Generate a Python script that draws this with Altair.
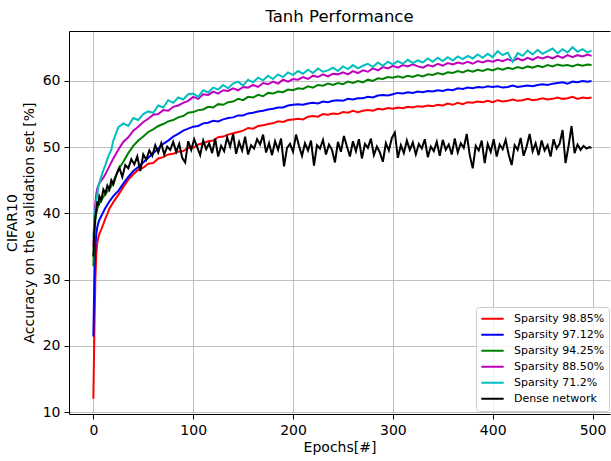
import altair as alt
import pandas as pd

# ---------------- data ----------------
EPOCHS_EARLY = [0, 1, 2, 3, 4, 5, 6, 8, 10, 12, 14, 16, 18, 20]
EPOCHS_SMOOTH = EPOCHS_EARLY + list(range(25, 500, 5)) + [499]
EPOCHS_DENSE = EPOCHS_EARLY + list(range(23, 500, 3)) + [499]

SERIES = ["Sparsity 98.85%", "Sparsity 97.12%", "Sparsity 94.25%",
          "Sparsity 88.50%", "Sparsity 71.2%", "Dense network"]
COLORS = ["#ff0000", "#0000ff", "#008000", "#bf00bf", "#00bfbf", "#000000"]

RED = [12.0, 22.0, 30.0, 34.0, 35.6, 36.4, 36.9, 37.6, 38.4, 39.2, 39.9, 40.7, 41.2, 41.7,
       42.8, 44.0, 45.1, 45.9, 46.6, 46.9, 47.5, 47.6, 48.3, 48.5,
       48.9, 49.0, 49.3, 49.4, 49.9, 49.9, 50.4, 50.6, 50.9, 51.0,
       51.5, 51.6, 51.9, 52.1, 52.3, 52.5, 52.9, 52.8, 53.2, 53.3,
       53.5, 53.6, 53.9, 53.8, 54.1, 54.2, 54.3, 54.2, 54.6, 54.7,
       54.6, 55.0, 54.9, 55.1, 55.0, 55.3, 55.2, 55.5, 55.3, 55.5,
       55.6, 55.5, 55.8, 55.7, 55.9, 55.8, 56.0, 55.9, 56.1, 56.0,
       56.2, 56.1, 56.3, 56.2, 56.4, 56.3, 56.6, 56.4, 56.7, 56.5,
       56.8, 56.7, 56.9, 56.8, 57.0, 56.8, 57.1, 56.9, 57.0, 57.2,
       57.0, 57.1, 57.3, 57.1, 57.2, 57.4, 57.2, 57.3, 57.5, 57.3,
       57.4, 57.6, 57.3, 57.5, 57.4,
       57.5]

BLUE = [21.4, 30.0, 35.0, 37.0, 38.0, 38.6, 39.0, 39.6, 40.2, 40.8, 41.3, 41.8, 42.2, 42.6,
        43.4, 44.5, 45.5, 46.4, 47.0, 47.7, 48.4, 49.1, 49.8, 50.5,
        51.0, 51.6, 52.0, 52.5, 52.8, 53.1, 53.2, 53.6, 53.7, 54.0,
        53.9, 54.2, 54.4, 54.5, 54.8, 54.8, 55.1, 55.2, 55.4, 55.5,
        55.7, 55.8, 56.0, 56.0, 56.3, 56.4, 56.5, 56.4, 56.6, 56.7,
        56.6, 56.9, 56.8, 57.0, 57.1, 57.0, 57.3, 57.2, 57.4, 57.4,
        57.6, 57.5, 57.8, 57.9, 57.8, 58.0, 58.2, 58.1, 58.3, 58.2,
        58.4, 58.3, 58.5, 58.4, 58.6, 58.5, 58.7, 58.6, 58.9, 58.8,
        59.0, 58.9, 59.1, 59.0, 59.2, 59.1, 59.2, 59.0, 59.1, 59.3,
        59.1, 59.2, 59.3, 59.2, 59.4, 59.5, 59.4, 59.6, 59.7, 59.8,
        59.6, 59.9, 59.8, 60.0, 59.9,
        60.0]

GREEN = [32.0, 37.0, 39.0, 40.0, 40.8, 41.2, 41.5, 42.0, 42.5, 42.9, 43.3, 43.7, 44.1, 44.8,
         46.6, 47.8, 49.1, 50.2, 51.0, 51.6, 52.3, 52.7, 53.2, 53.5,
         53.9, 54.1, 54.5, 54.7, 55.2, 55.3, 55.6, 55.7, 56.1, 56.0,
         56.5, 56.4, 56.8, 56.9, 57.3, 57.1, 57.6, 57.5, 57.9, 57.7,
         58.2, 58.1, 58.4, 58.3, 58.7, 58.6, 58.9, 58.8, 59.2, 59.0,
         59.4, 59.3, 59.6, 59.4, 59.7, 59.5, 59.9, 59.7, 60.0, 59.8,
         60.2, 60.0, 60.4, 60.3, 60.6, 60.5, 60.7, 60.5, 60.8, 60.6,
         60.9, 60.7, 61.0, 60.9, 61.2, 61.0, 61.3, 61.2, 61.5, 61.3,
         61.6, 61.4, 61.7, 61.5, 61.8, 61.6, 61.9, 61.7, 62.0, 61.8,
         62.1, 61.9, 62.2, 62.0, 62.3, 62.1, 62.4, 62.2, 62.5, 62.3,
         62.4, 62.2, 62.5, 62.3, 62.5,
         62.4]

MAGENTA = [35.0, 39.0, 41.5, 43.0, 43.8, 44.2, 44.6, 45.0, 45.4, 45.9, 46.5, 47.1, 47.7, 48.3,
           49.6, 50.8, 51.5, 52.5, 53.1, 53.8, 54.3, 54.9, 55.0, 55.6,
           55.5, 56.1, 56.3, 56.7, 57.0, 57.6, 57.3, 58.0, 57.9, 58.4,
           58.1, 58.6, 58.5, 58.9, 58.6, 59.1, 59.0, 59.4, 59.1, 59.7,
           59.5, 59.9, 59.6, 60.2, 59.9, 60.3, 60.2, 60.6, 60.3, 60.8,
           60.6, 61.0, 60.7, 61.1, 61.0, 61.3, 61.0, 61.5, 61.2, 61.6,
           61.4, 61.9, 61.6, 62.1, 61.9, 62.3, 62.0, 62.4, 62.2, 62.5,
           62.2, 62.0, 62.4, 62.2, 62.6, 62.3, 62.7, 62.5, 62.8, 62.6,
           62.9, 62.6, 63.0, 62.8, 63.1, 62.9, 63.2, 63.0, 63.3, 63.0,
           63.4, 63.1, 63.5, 63.2, 63.6, 63.4, 63.7, 63.4, 63.8, 63.5,
           63.9, 63.6, 63.9, 63.7, 64.0,
           63.8]

CYAN = [36.5, 38.5, 40.5, 42.0, 43.0, 44.0, 44.6, 45.6, 46.5, 47.3, 48.2, 49.0, 49.6, 51.0,
        53.0, 53.6, 53.2, 54.4, 54.1, 55.0, 55.4, 55.2, 56.3, 56.0,
        57.1, 56.7, 57.5, 57.2, 58.0, 58.1, 57.6, 58.6, 58.3, 59.0,
        58.7, 59.4, 58.9, 59.6, 59.9, 59.3, 60.2, 59.8, 60.5, 60.1,
        60.8, 60.3, 61.0, 60.6, 61.3, 60.9, 61.5, 61.1, 61.7, 61.2,
        61.9, 61.4, 61.6, 62.0, 61.5, 62.2, 61.8, 62.4, 61.9, 62.3,
        62.6, 62.1, 62.8, 62.3, 62.9, 62.5, 63.0, 62.6, 63.2, 62.7,
        63.1, 62.8, 63.4, 62.9, 63.5, 63.0, 63.6, 63.1, 63.7, 63.3,
        63.8, 63.4, 64.0, 63.5, 64.1, 63.6, 64.5, 63.9, 64.3, 62.9,
        64.2, 63.8, 64.6, 64.0, 64.7, 64.1, 64.5, 64.9, 64.2, 64.8,
        64.3, 65.1, 64.4, 64.8, 64.3,
        64.6]

BLACK = [33.5, 37.5, 39.5, 40.5, 41.8, 41.2, 42.6, 42.0, 43.6, 43.0, 44.2, 43.6, 45.0, 44.4,
         45.8, 46.9, 45.5, 47.3, 46.8, 48.2, 47.4, 48.6, 46.4, 48.9,
         48.1, 49.5, 48.7, 50.3, 49.2, 50.6, 48.9, 50.1, 49.6, 50.8,
         49.3, 50.5, 48.4, 47.7, 50.9, 49.6, 51.2, 50.0, 48.8, 51.0,
         49.7, 50.6, 49.1, 51.3, 48.6, 50.2, 49.4, 51.5, 50.1, 52.0,
         49.0, 50.8, 49.5, 51.6, 48.9, 50.3, 49.8, 51.2, 50.4, 51.9,
         49.2, 50.6, 48.8, 50.9, 49.6, 51.3, 47.1, 49.9, 50.5, 49.3,
         51.9, 50.2, 48.7, 50.6, 49.5, 51.0, 47.2, 50.3, 49.8, 51.1,
         48.9, 50.4, 49.6, 47.7, 50.8, 49.3, 51.7, 50.1, 48.6, 50.9,
         49.4, 51.2, 48.3, 50.5, 49.9, 51.3, 48.8, 50.1, 49.2, 47.8,
         50.6, 49.5, 51.4, 52.2, 48.4, 50.3, 49.1, 51.0, 49.6, 50.7,
         48.9, 50.5, 49.8, 51.2, 48.5, 50.1, 49.4, 50.8, 48.7, 51.1,
         49.6, 50.4, 48.9, 51.3, 49.2, 50.6, 49.9, 52.0, 48.8, 46.8,
         50.2, 49.5, 51.0, 47.6, 50.5, 49.3, 51.2, 48.6, 50.4, 49.7,
         51.1, 48.9, 47.3, 50.3, 49.6, 51.4, 48.7, 50.1, 52.0, 49.4,
         50.6, 48.8, 51.0, 49.5, 50.3, 48.6, 51.2, 49.8, 50.5, 52.6,
         47.6, 50.2, 53.2, 49.1, 50.4, 49.6, 50.2, 49.8, 50.0,
         49.9]

X_TICKS = [0, 100, 200, 300, 400, 500]
Y_TICKS = [10, 20, 30, 40, 50, 60]

# ---------------- table ----------------
rows = []
for idx, (name, epochs, vals) in enumerate(zip(
        SERIES, [EPOCHS_SMOOTH] * 5 + [EPOCHS_DENSE],
        [RED, BLUE, GREEN, MAGENTA, CYAN, BLACK])):
    assert len(epochs) == len(vals), (name, len(epochs), len(vals))
    for e, v in zip(epochs, vals):
        rows.append({"epoch": e, "acc": v, "series": name})
df = pd.DataFrame(rows)

FONT = "DejaVu Sans"
x_scale = alt.Scale(domain=[-24.4, 517.5], nice=False, zero=False)
y_scale = alt.Scale(domain=[9.7, 67.55], nice=False, zero=False)

lines = alt.Chart(df).mark_line(strokeWidth=2, clip=True).encode(
    x=alt.X("epoch:Q", scale=x_scale,
            axis=alt.Axis(values=X_TICKS, title="Epochs[#]", labelFlush=False,
                          grid=True, titlePadding=3)),
    y=alt.Y("acc:Q", scale=y_scale,
            axis=alt.Axis(values=Y_TICKS,
                          title=["CIFAR10", "Accuracy on the validation set [%]"],
                          labelFlush=False, grid=True, titlePadding=6,
                          titleLineHeight=17)),
    color=alt.Color("series:N",
                    scale=alt.Scale(domain=SERIES, range=COLORS),
                    legend=alt.Legend(title=None, orient="none",
                                      legendX=407, legendY=276,
                                      symbolType="stroke", symbolStrokeWidth=2,
                                      symbolSize=500, labelFontSize=11,
                                      labelFont=FONT, labelColor="black",
                                      padding=4, rowPadding=0, clipHeight=15.7,
                                      labelOffset=9,
                                      fillColor="rgba(255,255,255,0.8)",
                                      strokeColor="#cccccc", cornerRadius=3)),
    detail="series:N",
)

top_frame = alt.Chart(df).mark_line(strokeOpacity=0).encode(
    x=alt.X("epoch:Q", scale=x_scale,
            axis=alt.Axis(orient="top", labels=False, ticks=False, grid=False,
                          title=None, domain=True)),
    y=alt.Y("acc:Q", scale=y_scale,
            axis=alt.Axis(orient="right", labels=False, ticks=False, grid=False,
                          title=None, domain=False)),
)

chart = alt.layer(lines, top_frame).resolve_axis(
    x="independent", y="independent"
).properties(
    width=541, height=383,
    padding={"left": 69, "top": 31, "right": 1, "bottom": 47},
    autosize=alt.AutoSizeParams(type="none"),
    title=alt.TitleParams("Tanh Performance", font=FONT, fontSize=16.5,
                          fontWeight="normal", anchor="middle", offset=6,
                          color="black"),
    background="white",
).configure_view(stroke=None).configure_axis(
    labelFont=FONT, labelFontSize=14, labelColor="black",
    titleFont=FONT, titleFontSize=14, titleFontWeight="normal", titleColor="black",
    domainColor="black", domainWidth=1, tickColor="black", tickSize=5, tickWidth=1,
    labelPadding=4, gridColor="#b0b0b0", gridWidth=0.8,
)

chart.save("out.html", embed_options={"renderer": "svg", "actions": False})
